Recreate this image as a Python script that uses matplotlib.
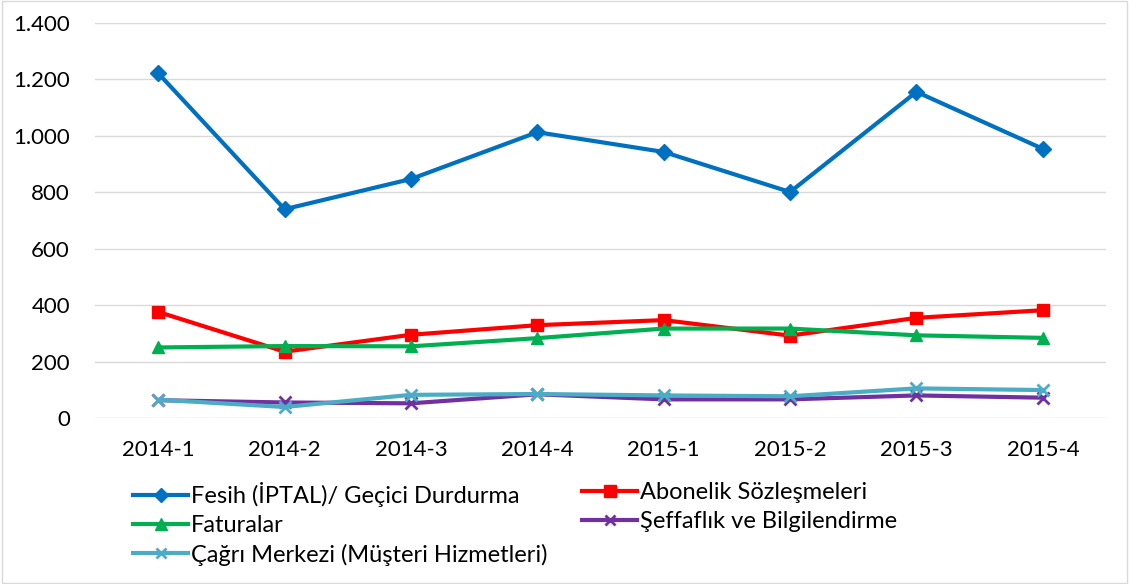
import matplotlib
matplotlib.use("Agg")
import matplotlib.pyplot as plt
from matplotlib.patches import Rectangle
from matplotlib.ticker import FuncFormatter

plt.rcParams['font.family'] = ['Lato', 'DejaVu Sans']

periods = ["2014-1", "2014-2", "2014-3", "2014-4", "2015-1", "2015-2", "2015-3", "2015-4"]
fesih = [1222, 740, 847, 1013, 943, 801, 1156, 954]
abonelik = [376, 235, 295, 329, 347, 292, 355, 382]
faturalar = [250, 255, 254, 283, 317, 317, 293, 284]
seffaflik = [63, 55, 52, 84, 66, 66, 80, 72]
cagri = [65, 39, 82, 85, 80, 77, 105, 99]

series = [
    ("Fesih (İPTAL)/ Geçici Durdurma", fesih, "#0070C0", "D", 8),
    ("Abonelik Sözleşmeleri", abonelik, "#FF0000", "s", 9),
    ("Faturalar", faturalar, "#00B050", "^", 9),
    ("Şeffaflık ve Bilgilendirme", seffaflik, "#7030A0", "x", 8),
    ("Çağrı Merkezi (Müşteri Hizmetleri)", cagri, "#4BACC6", "x", 8),
]

fig = plt.figure(figsize=(11.29, 5.84), dpi=100)
ax = fig.add_axes([95 / 1129, 1 - 418 / 584, 1011 / 1129, 395 / 584])

x = list(range(len(periods)))
lines = {}
for name, vals, col, mk, ms in series:
    ln, = ax.plot(x, vals, color=col, lw=3, marker=mk, markersize=ms,
                  markeredgewidth=2 if mk == "x" else 1, label=name)
    lines[name] = ln

ax.set_xlim(-0.5, len(periods) - 0.5)
ax.set_ylim(0, 1400)
ax.set_yticks(range(0, 1401, 200))
ax.yaxis.set_major_formatter(FuncFormatter(lambda v, p: f"{int(v):,}".replace(",", ".")))
ax.set_xticks(x)
ax.set_xticklabels(periods)
ax.grid(axis="y", color="#D9D9D9", lw=1)
ax.set_axisbelow(True)
for s in ax.spines.values():
    s.set_visible(False)
ax.tick_params(axis="both", length=0, labelsize=16, colors="#000000")
ax.tick_params(axis="y", pad=18)
ax.tick_params(axis="x", pad=16)

# two legend columns placed separately, like the Excel layout
col1 = ["Fesih (İPTAL)/ Geçici Durdurma", "Faturalar", "Çağrı Merkezi (Müşteri Hizmetleri)"]
col2 = ["Abonelik Sözleşmeleri", "Şeffaflık ve Bilgilendirme"]
leg_kw = dict(frameon=False, loc="upper left", fontsize=17, handlelength=2.35,
              handletextpad=0.12, labelspacing=0.33, borderpad=0, borderaxespad=0,
              markerscale=0.9)
for names, x0 in [(col1, 133), (col2, 582)]:
    fig.legend([lines[n] for n in names], names,
               bbox_to_anchor=(x0 / 1129, 1 - 482 / 584), **leg_kw)

fig.patches.append(Rectangle((0.002, 0.002), 0.996, 0.996, transform=fig.transFigure,
                             fill=False, edgecolor="#D9D9D9", lw=1))

fig.savefig("out.png", dpi=100)
